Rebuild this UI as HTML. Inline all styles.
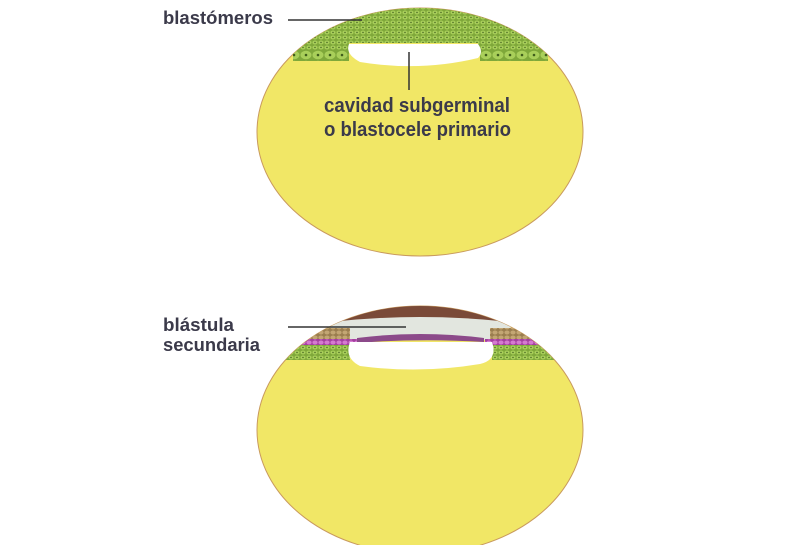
<!DOCTYPE html>
<html><head><meta charset="utf-8"><style>
html,body{margin:0;padding:0;background:#fff;}
svg{display:block;}
text{font-family:"Liberation Sans",sans-serif;font-weight:bold;fill:#3b3a4a;}
</style></head><body>
<svg width="810" height="545" viewBox="0 0 810 545" xmlns="http://www.w3.org/2000/svg">
<defs>
<pattern id="cells" width="6" height="5" patternUnits="userSpaceOnUse">
<rect width="6" height="5" fill="#7fa83a"/>
<ellipse cx="3" cy="2.5" rx="2.6" ry="2" fill="#a9cf5a"/>
<circle cx="3" cy="2.5" r="0.7" fill="#3f5e1c"/>
</pattern>
<pattern id="bigcells" width="12" height="10" patternUnits="userSpaceOnUse">
<rect width="12" height="10" fill="#7fa83a"/>
<ellipse cx="6" cy="5" rx="5.5" ry="4.3" fill="#a9cf5a"/>
<circle cx="6" cy="5" r="1.3" fill="#3f5e1c"/>
</pattern>
<pattern id="pcells" width="6" height="5" patternUnits="userSpaceOnUse">
<rect width="6" height="5" fill="#a43fa0"/>
<ellipse cx="3" cy="2.5" rx="2.6" ry="2" fill="#d57bd0"/>
</pattern>
<pattern id="bcells" width="6" height="5" patternUnits="userSpaceOnUse">
<rect width="6" height="5" fill="#9a7d4e"/>
<ellipse cx="3" cy="2.5" rx="2.6" ry="2" fill="#c3a673"/>
</pattern>
<clipPath id="e1"><ellipse cx="420" cy="132" rx="163" ry="124"/></clipPath>
<clipPath id="e2"><ellipse cx="420" cy="430" rx="163" ry="124"/></clipPath>
</defs>

<!-- top -->
<ellipse cx="420" cy="132" rx="163" ry="124" fill="#f1e766" stroke="#c99a5e" stroke-width="1"/>
<g clip-path="url(#e1)">
<rect x="250" y="0" width="340" height="43" fill="url(#cells)"/>
<rect x="293" y="43" width="56" height="9" fill="url(#cells)"/>
<rect x="478" y="43" width="70" height="9" fill="url(#cells)"/>
<rect x="293" y="50" width="56" height="11" fill="url(#bigcells)"/>
<rect x="480" y="50" width="68" height="11" fill="url(#bigcells)"/>
<path d="M349 44 L478 44 Q484 52 478 58 Q420 72 360 62 Q345 54 349 44 Z" fill="#fff"/>
</g>
<line x1="288" y1="20" x2="362" y2="20" stroke="#333" stroke-width="1.5"/>
<line x1="409" y1="52" x2="409" y2="90" stroke="#333" stroke-width="1.5"/>
<text x="163" y="24" font-size="18" textLength="110" lengthAdjust="spacingAndGlyphs">blastómeros</text>
<text x="324" y="112" font-size="20" textLength="186" lengthAdjust="spacingAndGlyphs">cavidad subgerminal</text>
<text x="324" y="136" font-size="20" textLength="187" lengthAdjust="spacingAndGlyphs">o blastocele primario</text>

<!-- bottom -->
<ellipse cx="420" cy="430" rx="163" ry="124" fill="#f1e766" stroke="#c99a5e" stroke-width="1"/>
<g clip-path="url(#e2)">
<path d="M250 300 L590 300 L590 330 Q420 312 250 330 Z" fill="#7a4a38"/>
<path d="M330 322 Q420 312 510 322 L512 340 L330 340 Z" fill="#e2e6df"/>
<rect x="250" y="328" width="100" height="13" fill="url(#bcells)"/>
<rect x="490" y="328" width="100" height="13" fill="url(#bcells)"/>
<rect x="250" y="339" width="110" height="8" fill="url(#pcells)"/>
<rect x="485" y="339" width="110" height="8" fill="url(#pcells)"/>
<rect x="250" y="345" width="100" height="15" fill="url(#cells)"/>
<rect x="492" y="345" width="100" height="15" fill="url(#cells)"/>
<path d="M357 338 Q420 330 484 338 L484 342 Q420 338 357 343 Z" fill="#8c4a8a"/>
<path d="M350 342 L492 342 Q498 360 480 364 Q420 374 360 366 Q344 358 350 342 Z" fill="#fff"/>
</g>
<line x1="288" y1="327" x2="406" y2="327" stroke="#333" stroke-width="1.5"/>
<text x="163" y="331" font-size="18" textLength="71" lengthAdjust="spacingAndGlyphs">blástula</text>
<text x="163" y="351" font-size="18" textLength="97" lengthAdjust="spacingAndGlyphs">secundaria</text>
</svg>
</body></html>
